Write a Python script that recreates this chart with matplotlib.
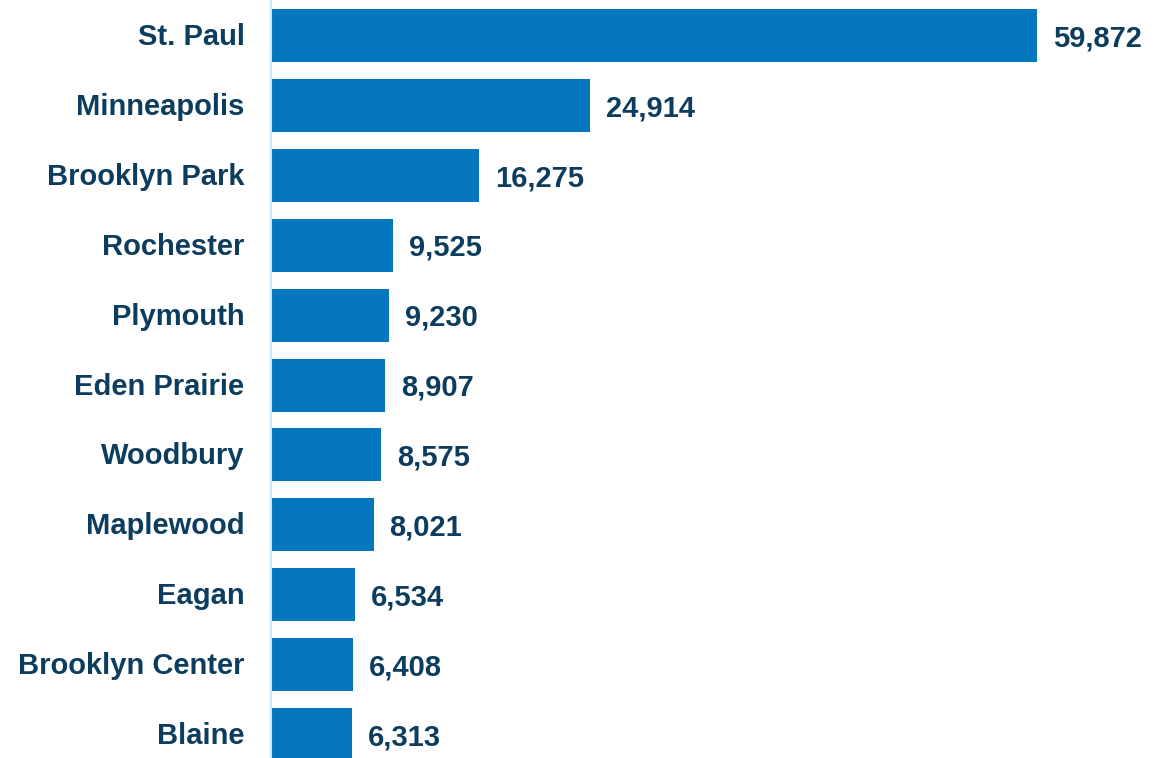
import matplotlib
matplotlib.use("Agg")
import matplotlib.pyplot as plt
from matplotlib.transforms import ScaledTranslation

# cities and counts, top to bottom
cities = ["St. Paul", "Minneapolis", "Brooklyn Park", "Rochester", "Plymouth",
          "Eden Prairie", "Woodbury", "Maplewood", "Eagan", "Brooklyn Center", "Blaine"]
counts = [59872, 24914, 16275, 9525, 9230, 8907, 8575, 8021, 6534, 6408, 6313]

bar_color = "#0477BF"
text_color = "#0D3D5E"

plt.rcParams["font.family"] = ["Liberation Sans", "DejaVu Sans"]

fig = plt.figure(figsize=(11.6, 7.58), dpi=100)
ax = fig.add_axes([271 / 1160, 0, 889 / 1160, 1])

pos = list(range(len(cities)))
ax.barh(pos, counts, height=0.758, color=bar_color)

for y, v in zip(pos, counts):
    ax.annotate(f"{v:,}", xy=(v, y), xytext=(11.5, -2), textcoords="offset points",
                ha="left", va="center", fontsize=21, fontweight="bold", color=text_color)

ax.set_ylim(10.336, -0.508)
ax.set_xlim(0, 69486)
ax.set_yticks(pos)
ax.set_yticklabels(cities, fontsize=21, fontweight="bold", color=text_color)
ax.tick_params(axis="y", length=0, pad=19)
ax.set_xticks([])
# nudge city labels up a touch
for lbl in ax.get_yticklabels():
    lbl.set_transform(lbl.get_transform() + ScaledTranslation(0, 1.5 / 100, fig.dpi_scale_trans))

for s in ["top", "right", "bottom"]:
    ax.spines[s].set_visible(False)
ax.spines["left"].set_color("#CFE6F5")
ax.spines["left"].set_linewidth(1.5)

fig.savefig("out.png", dpi=100)
